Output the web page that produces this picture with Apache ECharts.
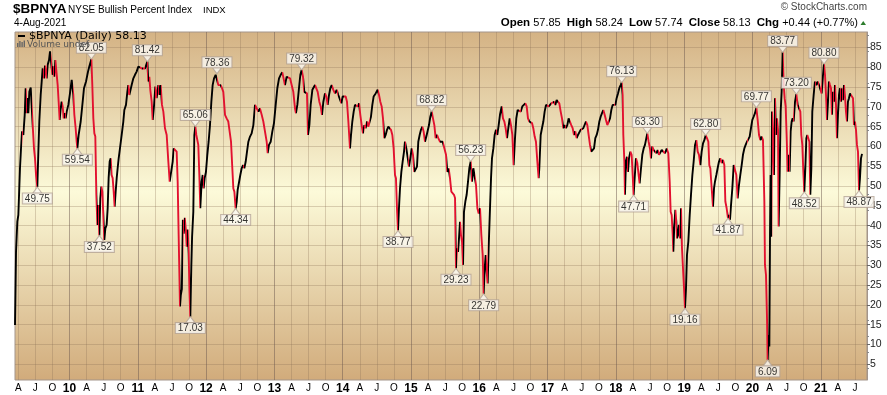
<!DOCTYPE html>
<html><head><meta charset="utf-8">
<script src="https://cdn.jsdelivr.net/npm/echarts@6/dist/echarts.min.js"></script>
<style>html,body{margin:0;padding:0;background:#fff}#c{width:887px;height:395px}</style>
</head><body><div id="c"></div>
<script>
// $BPNYA daily readings: [decimal year, value]
const seg2009 = [[2009.202,14.9],[2009.207,20.8],[2009.217,33.4],[2009.236,41],[2009.251,42.7],[2009.275,54.5],[2009.290,59.5],[2009.305,63.8],[2009.324,62.9],[2009.344,67.9],[2009.358,74.7],[2009.373,68.4],[2009.388,72.2],[2009.397,68.4],[2009.412,73.8],[2009.432,74.9],[2009.451,75.1],[2009.461,65.4],[2009.480,59.5],[2009.495,57],[2009.510,52.8],[2009.529,49.75],[2009.544,58.7],[2009.558,66.3],[2009.578,73],[2009.593,76.4],[2009.607,79.7],[2009.627,77.2],[2009.641,80.4],[2009.666,77.2],[2009.680,80.6],[2009.700,81.8],[2009.715,84],[2009.729,84.4],[2009.749,78.1],[2009.763,80.2],[2009.778,77.6],[2009.793,81.8],[2009.812,81.4],[2009.827,75.5],[2009.841,71.3],[2009.856,66.7],[2009.871,69.6],[2009.885,71.3],[2009.900,70.1],[2009.915,67.1],[2009.929,68.4],[2009.944,67.1],[2009.959,68.8],[2009.983,70.5],[2010.007,73.4],[2010.032,76.8],[2010.046,76.8],[2010.056,73],[2010.071,68],[2010.090,64.6],[2010.105,61.2],[2010.115,59.54],[2010.134,62.9],[2010.164,66.3],[2010.193,71.3],[2010.212,74.7],[2010.242,76.4],[2010.271,78.9],[2010.290,80.2],[2010.320,82.05],[2010.334,75.5],[2010.349,67.1],[2010.364,63.3],[2010.378,62.5],[2010.393,47.8],[2010.408,40.2],[2010.422,45.2],[2010.437,37.52],[2010.451,46.9],[2010.466,49.9],[2010.481,48.6],[2010.495,42.7],[2010.510,36.4],[2010.525,39.3],[2010.544,40.2],[2010.559,44.4],[2010.573,52],[2010.588,56.2],[2010.603,57],[2010.617,52.8],[2010.632,52],[2010.647,48.6],[2010.661,44.8],[2010.676,48.6],[2010.691,52],[2010.705,54.5],[2010.720,57],[2010.739,59.5],[2010.764,62.9],[2010.788,66.3],[2010.803,69.2],[2010.827,70.5],[2010.847,73.8],[2010.861,75.5],[2010.876,73],[2010.891,72.6],[2010.910,75.5],[2010.935,77.2],[2010.959,78.1],[2010.983,78.9],[2011.008,80.2],[2011.032,80.6],[2011.057,79.7],[2011.081,80.2],[2011.105,79.7],[2011.140,81.42],[2011.154,76.4],[2011.169,77.6],[2011.183,74.3],[2011.203,71.3],[2011.218,66.7],[2011.237,70.1],[2011.257,75.1],[2011.276,72.2],[2011.301,75.5],[2011.315,73],[2011.335,75.5],[2011.354,70.5],[2011.374,68.8],[2011.398,64.6],[2011.423,62.9],[2011.447,56.2],[2011.467,51.1],[2011.491,51.1],[2011.511,56.2],[2011.525,59.5],[2011.545,59.1],[2011.569,58.7],[2011.584,51.1],[2011.598,37.7],[2011.618,19.6],[2011.630,22.5],[2011.645,24],[2011.660,41.5],[2011.672,38],[2011.688,42],[2011.705,38.5],[2011.716,34.7],[2011.730,39],[2011.745,33],[2011.756,23.8],[2011.769,17.03],[2011.784,30],[2011.795,37.2],[2011.813,43.5],[2011.828,62.9],[2011.842,65.06],[2011.857,62.9],[2011.872,62.5],[2011.886,60.4],[2011.901,52.8],[2011.915,44.4],[2011.935,51.1],[2011.950,52.8],[2011.964,49.4],[2011.979,52],[2011.998,53.6],[2012.018,57.9],[2012.037,61.2],[2012.057,65.4],[2012.077,71.3],[2012.096,75.5],[2012.116,77.2],[2012.140,78.1],[2012.159,78.36],[2012.179,75.5],[2012.199,75.1],[2012.213,75.5],[2012.233,74.7],[2012.252,73.8],[2012.277,68],[2012.301,67.1],[2012.325,66.3]];
const seg2012 = [[2012.365,61.2],[2012.384,54.5],[2012.399,49.4],[2012.414,48.6],[2012.433,44.34],[2012.448,46],[2012.462,49],[2012.482,49.4],[2012.501,52.8],[2012.521,54.5],[2012.541,55.3],[2012.560,54.5],[2012.580,56.2],[2012.599,58.7],[2012.619,61.2],[2012.643,62.5],[2012.667,63.3],[2012.692,65.4],[2012.716,70.5],[2012.741,70.1],[2012.765,68.8],[2012.789,69.6],[2012.814,68],[2012.838,66.3],[2012.863,65.9],[2012.887,61.2],[2012.902,58.3],[2012.921,60.4],[2012.946,61.2],[2012.970,63.8],[2012.994,65.9],[2013.019,70.5],[2013.043,74.7],[2013.068,77.2],[2013.092,78.1],[2013.116,78.7],[2013.136,78.4],[2013.155,75.5],[2013.180,77.6],[2013.204,78.1],[2013.229,77.2],[2013.253,76.8],[2013.277,73.8],[2013.302,69.6],[2013.316,68.4],[2013.336,70.5],[2013.360,74.7],[2013.380,78.1],[2013.399,79.32],[2013.419,77.6],[2013.438,73.8],[2013.458,74.3],[2013.477,73.4],[2013.492,62.9],[2013.512,65.4],[2013.531,70.5],[2013.556,74.3],[2013.575,74.7],[2013.595,75.5],[2013.614,75.1],[2013.634,73.8],[2013.658,71.3],[2013.678,70.1],[2013.697,68],[2013.717,71.3],[2013.741,73.4],[2013.761,72.6],[2013.780,70.5],[2013.800,73],[2013.819,74.7],[2013.839,75.5],[2013.863,74.3],[2013.887,73.4],[2013.912,74.3],[2013.936,73],[2013.961,73.4],[2013.980,70.9],[2014.000,72.6],[2014.024,73],[2014.044,72.6],[2014.063,71.3],[2014.083,66.3],[2014.107,59.5],[2014.122,62.9],[2014.141,66.3],[2014.161,68.8],[2014.180,70.5],[2014.200,70.9],[2014.219,70.1],[2014.239,70.9],[2014.258,68],[2014.278,65.4],[2014.297,63.3],[2014.317,65.4],[2014.336,64.6],[2014.356,66.3],[2014.375,65],[2014.395,64.6],[2014.414,67.5],[2014.434,70.5],[2014.453,72.6],[2014.483,73.4],[2014.512,74.3],[2014.532,73],[2014.551,71.3],[2014.571,70.1],[2014.590,67.1],[2014.610,62.1],[2014.629,62.9],[2014.649,64.2],[2014.668,65],[2014.688,65.4],[2014.707,64.2],[2014.727,62.9],[2014.746,59.5],[2014.766,52.8],[2014.780,52],[2014.795,44.4],[2014.810,38.77],[2014.824,44.4],[2014.839,49.4],[2014.859,53.6],[2014.878,56.2],[2014.898,58.7],[2014.912,61.2],[2014.932,59.5],[2014.951,59.9],[2014.971,54.9],[2014.990,57],[2015.010,59.5],[2015.029,57.9],[2015.049,53.6],[2015.068,54.1],[2015.088,54.9],[2015.107,61.2],[2015.127,62.9],[2015.146,64.2],[2015.166,65],[2015.185,63.8],[2015.205,61.2],[2015.225,62.5],[2015.244,62.9],[2015.264,65.4],[2015.283,67.5],[2015.303,68.82],[2015.322,67.1],[2015.342,65.4],[2015.361,62.1],[2015.381,62.9],[2015.400,62.1],[2015.424,61.2]];
const seg2015 = [[2015.464,61.2],[2015.493,60.8],[2015.513,57.9],[2015.532,53.6],[2015.552,54.5],[2015.571,52],[2015.591,48.6],[2015.610,48.2],[2015.630,47.8],[2015.645,47],[2015.659,29.23],[2015.674,34.3],[2015.689,33.4],[2015.703,36.8],[2015.718,41],[2015.732,37.7],[2015.747,36],[2015.762,30.1],[2015.776,43.5],[2015.796,46.1],[2015.815,47.8],[2015.835,51.1],[2015.854,54.5],[2015.874,56.23],[2015.893,51.1],[2015.913,54.5],[2015.933,54.9],[2015.952,50.3],[2015.972,44.4],[2015.991,43.1],[2016.011,44.4],[2016.030,37.7],[2016.050,32.6],[2016.064,22.79],[2016.079,29.2],[2016.094,32.6],[2016.108,28.4],[2016.123,25.4],[2016.137,34.3],[2016.157,44.4],[2016.172,52],[2016.186,57],[2016.206,59.5],[2016.225,62.9],[2016.245,64.2],[2016.264,62.9],[2016.284,65.4],[2016.303,68],[2016.328,70.1],[2016.347,67.1],[2016.367,66.3],[2016.386,64.6],[2016.406,62.1],[2016.425,64.6],[2016.445,67.1],[2016.464,65.4],[2016.484,62.9],[2016.503,55.3],[2016.523,62.1],[2016.542,67.1],[2016.562,69.2],[2016.586,69.2],[2016.606,68.8],[2016.630,70.1],[2016.655,70.5],[2016.674,70.9],[2016.694,70.1],[2016.713,67.1],[2016.733,66.3],[2016.752,66.7],[2016.772,65.9],[2016.791,64.6],[2016.811,62.5],[2016.830,61.2],[2016.850,56.2],[2016.869,52],[2016.879,54.5],[2016.899,62.9],[2016.918,64.6],[2016.938,66.3],[2016.957,68.8],[2016.977,70.5],[2016.996,70.5],[2017.016,70.1],[2017.035,70.5],[2017.055,70.9],[2017.074,70.5],[2017.094,71.3],[2017.113,70.5],[2017.133,71.7],[2017.153,72.2],[2017.172,70.9],[2017.192,68.8],[2017.211,67.1],[2017.231,64.6],[2017.250,65.4],[2017.269,64.6],[2017.289,65.4],[2017.308,67.1],[2017.328,67.5],[2017.347,65.4],[2017.367,64.6],[2017.387,62.9],[2017.406,63.8],[2017.426,62.1],[2017.445,62.9],[2017.465,63.3],[2017.484,64.2],[2017.504,63.8],[2017.523,64.6],[2017.543,65],[2017.562,66.3],[2017.582,65.4],[2017.601,62.9],[2017.621,60.4],[2017.640,58.7],[2017.660,59.1],[2017.680,59.5],[2017.699,62.1],[2017.719,62.9],[2017.738,64.2],[2017.758,66.3],[2017.777,67.5],[2017.797,68.4],[2017.816,69.2],[2017.836,68],[2017.855,66.7],[2017.875,65.4],[2017.894,65],[2017.914,67.1],[2017.933,69.2],[2017.953,70.5],[2017.972,70.9],[2017.992,70.5],[2018.011,72.2],[2018.031,73.4],[2018.050,74.7],[2018.070,75.5],[2018.085,76.13],[2018.099,73],[2018.109,62.9],[2018.124,56.2],[2018.133,47.8],[2018.148,56.2],[2018.163,57.4],[2018.177,53.6],[2018.192,57],[2018.212,58.7],[2018.231,57.9],[2018.246,52.8],[2018.260,47.71],[2018.275,52],[2018.294,57],[2018.314,55.8],[2018.333,52.8],[2018.348,50.7],[2018.368,54.5],[2018.387,57.9],[2018.407,59.5],[2018.426,60.4],[2018.446,62.1],[2018.460,63.3],[2018.480,61.2],[2018.499,59.5],[2018.514,57],[2018.533,60],[2018.553,59.1],[2018.573,59.5],[2018.592,58.3],[2018.612,59.1],[2018.631,57.9]];
const seg2018 = [[2018.646,57.4],[2018.671,59.1],[2018.695,59.5],[2018.719,58.3],[2018.744,59.5],[2018.768,58.3],[2018.788,51.1],[2018.802,43.5],[2018.817,42.7],[2018.832,37.7],[2018.841,33.4],[2018.856,40.2],[2018.871,44],[2018.885,41],[2018.895,36.8],[2018.910,37.7],[2018.924,40.2],[2018.939,36.8],[2018.954,44.4],[2018.968,34.3],[2018.983,29.2],[2018.998,24.2],[2019.012,19.16],[2019.027,24.2],[2019.041,32.6],[2019.061,36],[2019.081,42.7],[2019.100,47.8],[2019.120,52.8],[2019.139,56.2],[2019.159,60.4],[2019.178,61.6],[2019.198,58.7],[2019.217,57.9],[2019.237,55.3],[2019.256,58.7],[2019.276,60.8],[2019.295,61.6],[2019.315,62.8],[2019.334,62.1],[2019.354,61.2],[2019.368,55.3],[2019.383,54.5],[2019.403,49.4],[2019.422,44.8],[2019.437,49.4],[2019.451,51.1],[2019.471,52.8],[2019.490,54.5],[2019.510,56.2],[2019.529,57],[2019.549,55.8],[2019.569,56.6],[2019.588,55.3],[2019.603,46.1],[2019.622,44.4],[2019.642,41.87],[2019.656,42.7],[2019.671,41.5],[2019.686,45.2],[2019.705,49.4],[2019.725,55.3],[2019.744,54.9],[2019.764,52.8],[2019.783,46.9],[2019.803,50.3],[2019.822,52.8],[2019.842,55.3],[2019.861,57.9],[2019.881,59.5],[2019.900,60.4],[2019.920,61.2],[2019.939,60.8],[2019.959,62.5],[2019.978,64.6],[2019.998,66.7],[2020.017,67.5],[2020.037,68.4],[2020.057,69.77],[2020.076,66.7],[2020.096,62.9],[2020.115,61.6],[2020.135,62.5],[2020.154,61.6],[2020.174,46.1],[2020.183,30.1],[2020.198,27.6],[2020.213,16.6],[2020.222,6.09],[2020.237,12.4],[2020.247,9.5],[2020.257,37.7],[2020.266,52.8],[2020.276,37.2],[2020.286,68.8],[2020.300,62.9],[2020.315,52.8],[2020.330,72.2],[2020.344,62.9],[2020.359,67.1],[2020.374,64.2],[2020.383,39.8],[2020.398,52.8],[2020.413,68.8],[2020.427,73.8],[2020.442,83.77],[2020.457,75.5],[2020.471,72.2],[2020.486,70.1],[2020.500,62.9],[2020.515,53.6],[2020.530,57.9],[2020.544,53.6],[2020.559,63.8],[2020.574,66.3],[2020.588,67.1],[2020.603,66.3],[2020.623,71.3],[2020.642,73.2],[2020.662,70.5],[2020.681,70.9],[2020.701,68.8],[2020.715,62.9],[2020.730,60.4],[2020.745,53.6],[2020.759,48.52],[2020.774,54.5],[2020.789,62.1],[2020.803,62.9],[2020.818,62.5],[2020.833,61.2],[2020.847,47.8],[2020.862,54.5],[2020.876,68.8],[2020.896,73],[2020.915,76.4],[2020.935,75.5],[2020.955,76.4],[2020.974,75.5],[2020.994,76],[2021.013,73.4],[2021.033,78.1],[2021.047,80.8],[2021.062,78.1],[2021.077,73],[2021.091,66.7],[2021.106,71.3],[2021.120,76.4],[2021.135,75.5],[2021.150,74.7],[2021.164,68],[2021.179,73.8],[2021.194,71.3],[2021.208,75.5],[2021.223,70.5],[2021.237,62.1],[2021.252,68],[2021.267,73],[2021.281,74.7],[2021.296,71.3],[2021.311,74.7],[2021.325,71.7],[2021.340,75.5],[2021.355,72.6],[2021.369,68.8],[2021.384,66.3],[2021.398,71.3],[2021.413,72.2],[2021.428,73.4],[2021.442,73.8],[2021.457,73.4],[2021.472,72.2],[2021.486,65.4],[2021.501,66.3],[2021.516,64.2],[2021.530,60.4],[2021.545,58.7],[2021.560,48.87],[2021.574,52],[2021.589,57],[2021.604,58.13]];

// annotated turning points
const peaks = [[2010.320,82.05],[2011.140,81.42],[2011.842,65.06],[2012.159,78.36],[2013.399,79.32],[2015.303,68.82],[2015.874,56.23],[2018.085,76.13],[2018.460,63.30],[2019.315,62.80],[2020.057,69.77],[2020.442,83.77],[2020.642,73.20],[2021.047,80.80]];
const troughs = [[2009.529,49.75],[2010.115,59.54],[2010.437,37.52],[2011.769,17.03],[2012.433,44.34],[2014.810,38.77],[2015.659,29.23],[2016.064,22.79],[2018.260,47.71],[2019.012,19.16],[2019.642,41.87],[2020.222,6.09],[2020.759,48.52],[2021.560,48.87]];

const monthLetters = ['', 'A', 'J', 'O'];
const yTickValues = [5,10,15,20,25,30,35,40,45,50,55,60,65,70,75,80,85];
const xMin = 2009.202, xMax = 2021.677;
const quote = {open:'57.85', high:'58.24', low:'57.74', close:'58.13', chg:'+0.44', pct:'(+0.77%)'};

const RED = '#e2112f';
const data = [].concat(seg2009, seg2012, seg2015, seg2018);

const xTicks = [];
for (let y = 2009; y <= 2021; y++) for (let q = 0; q < 4; q++) {
  const v = y + q / 4;
  if (v >= xMin && v <= xMax) xTicks.push(v);
}
const pieces = [];
for (let i = 1; i < data.length; i++) {
  const color = data[i][1] >= data[i-1][1] ? '#000000' : RED;
  const last = pieces[pieces.length - 1];
  if (last && last.color === color) last.lt = data[i][0];
  else pieces.push({gte: data[i-1][0], lt: data[i][0], color});
}
pieces[pieces.length - 1].lt = xMax + 1;

const labelBox = {
  show: true, fontSize: 10, fontFamily: 'Liberation Sans, Arial, sans-serif', color: '#000',
  backgroundColor: '#fbf9f3', borderColor: '#b3a396', borderWidth: 1,
  padding: [1, 2, 0, 2], lineHeight: 9, distance: 0,
  formatter: p => p.value[1].toFixed(2)
};

const chart = echarts.init(document.getElementById('c'), null, {renderer: 'canvas'});
chart.setOption({
  backgroundColor: '#ffffff',
  animation: false,
  grid: {
    left: 15, right: 20, top: 32, bottom: 15, show: true,
    borderColor: '#a3958b', borderWidth: 1,
    backgroundColor: new echarts.graphic.LinearGradient(0, 0, 0, 1, [
      {offset: 0, color: '#d4b284'}, {offset: 0.46, color: '#fcfad9'}, {offset: 1, color: '#d1ab7b'}
    ])
  },
  xAxis: {
    type: 'value', min: xMin, max: xMax,
    axisLine: {show: false},
    axisTick: {show: false, customValues: xTicks},
    axisLabel: {
      customValues: xTicks, margin: 3, color: '#000', fontSize: 10,
      fontFamily: 'Liberation Sans, Arial, sans-serif',
      formatter: v => {
        const yr = Math.floor(v + 1e-6);
        const q = Math.round((v - yr) * 4);
        return q === 0 ? '{y|' + String(yr).slice(2) + '}' : monthLetters[q];
      },
      rich: {y: {fontWeight: 'bold', fontSize: 12, fontFamily: 'Liberation Sans, Arial, sans-serif', color: '#000'}}
    },
    splitLine: {show: true, lineStyle: {width: 1, color: [
      'rgba(140,112,85,0.3)', 'rgba(140,112,85,0.3)', 'rgba(140,112,85,0.3)', 'rgba(110,90,80,0.5)'
    ]}}
  },
  yAxis: {
    type: 'value', position: 'right', min: 1.04, max: 88.9,
    axisLine: {show: true, lineStyle: {color: '#a3958b'}},
    axisTick: {show: true, customValues: yTickValues, length: 3, lineStyle: {color: '#666'}},
    minorTick: {show: true, splitNumber: 5, length: 2, lineStyle: {color: '#888'}},
    axisLabel: {customValues: yTickValues, margin: 3, fontSize: 10.5, color: '#222',
      fontFamily: 'Liberation Sans, Arial, sans-serif'},
    splitLine: {show: true, lineStyle: {color: 'rgba(140,112,85,0.3)', width: 1}}
  },
  visualMap: {
    show: false, type: 'piecewise', dimension: 0, seriesIndex: 0,
    pieces: pieces, outOfRange: {color: '#000'}
  },
  series: [
    {type: 'line', data: data, showSymbol: false, symbol: 'none', z: 2,
     lineStyle: {width: 1.9}, silent: true},
    {type: 'scatter', data: peaks, z: 5, silent: true,
     symbol: 'path://M0,0 L10,0 L5,6 Z', symbolSize: [9, 6], symbolOffset: [0, -3],
     itemStyle: {color: '#fbf9f3', borderColor: '#b3a396', borderWidth: 1},
     label: Object.assign({position: 'top'}, labelBox)},
    {type: 'scatter', data: troughs, z: 5, silent: true,
     symbol: 'triangle', symbolSize: [9, 6], symbolOffset: [0, 3],
     itemStyle: {color: '#fbf9f3', borderColor: '#b3a396', borderWidth: 1},
     label: Object.assign({position: 'bottom'}, labelBox)}
  ],
  graphic: [
    {type: 'text', x: 13, y: 9, z: 20, style: {text: '$BPNYA', font: 'bold 13.5px "Liberation Sans", Arial, sans-serif', fill: '#000', textVerticalAlign: 'middle'}},
    {type: 'text', x: 68, y: 10, z: 20, style: {text: 'NYSE Bullish Percent Index', font: '10px "Liberation Sans", Arial, sans-serif', fill: '#000', textVerticalAlign: 'middle'}},
    {type: 'text', x: 203, y: 10, z: 20, style: {text: 'INDX', font: '9.5px "Liberation Sans", Arial, sans-serif', fill: '#000', textVerticalAlign: 'middle'}},
    {type: 'text', x: 14, y: 23, z: 20, style: {text: '4-Aug-2021', font: '10px "Liberation Sans", Arial, sans-serif', fill: '#000', textVerticalAlign: 'middle'}},
    {type: 'text', x: 867, y: 7, z: 20, style: {text: '© StockCharts.com', font: '10px "Liberation Sans", Arial, sans-serif', fill: '#444', textAlign: 'right', textVerticalAlign: 'middle'}},
    {type: 'text', x: 858, y: 23, z: 20, style: {
      text: '{b|Open} ' + quote.open + '  {b|High} ' + quote.high + '  {b|Low} ' + quote.low + '  {b|Close} ' + quote.close + '  {b|Chg} ' + quote.chg + ' ' + quote.pct,
      font: '11px "Liberation Sans", Arial, sans-serif', fill: '#000', textAlign: 'right', textVerticalAlign: 'middle',
      rich: {b: {fontWeight: 'bold', fontSize: 11.5, fontFamily: 'Liberation Sans', fill: '#000'}}}},
    {type: 'polygon', z: 20, shape: {points: [[860.5, 25], [866, 25], [863.25, 21]]}, style: {fill: '#2d7d2d'}},
    {type: 'line', z: 20, shape: {x1: 18, y1: 36, x2: 25, y2: 36}, style: {stroke: '#000', lineWidth: 2}},
    {type: 'text', x: 29, y: 36, z: 20, style: {text: '$BPNYA (Daily) 58.13', font: '11px "DejaVu Sans", Verdana, sans-serif', fill: '#000', textVerticalAlign: 'middle'}},
    {type: 'rect', z: 20, shape: {x: 17, y: 43, width: 1.4, height: 4}, style: {fill: '#666'}},
    {type: 'rect', z: 20, shape: {x: 19.2, y: 41, width: 1.4, height: 6}, style: {fill: '#666'}},
    {type: 'rect', z: 20, shape: {x: 21.4, y: 42, width: 1.4, height: 5}, style: {fill: '#666'}},
    {type: 'rect', z: 20, shape: {x: 23.6, y: 40.5, width: 1.4, height: 6.5}, style: {fill: '#666'}},
    {type: 'text', x: 27, y: 44.5, z: 20, style: {text: 'Volume undef', font: '9px "DejaVu Sans", Verdana, sans-serif', fill: '#555', textVerticalAlign: 'middle'}}
  ]
});
</script></body></html>
